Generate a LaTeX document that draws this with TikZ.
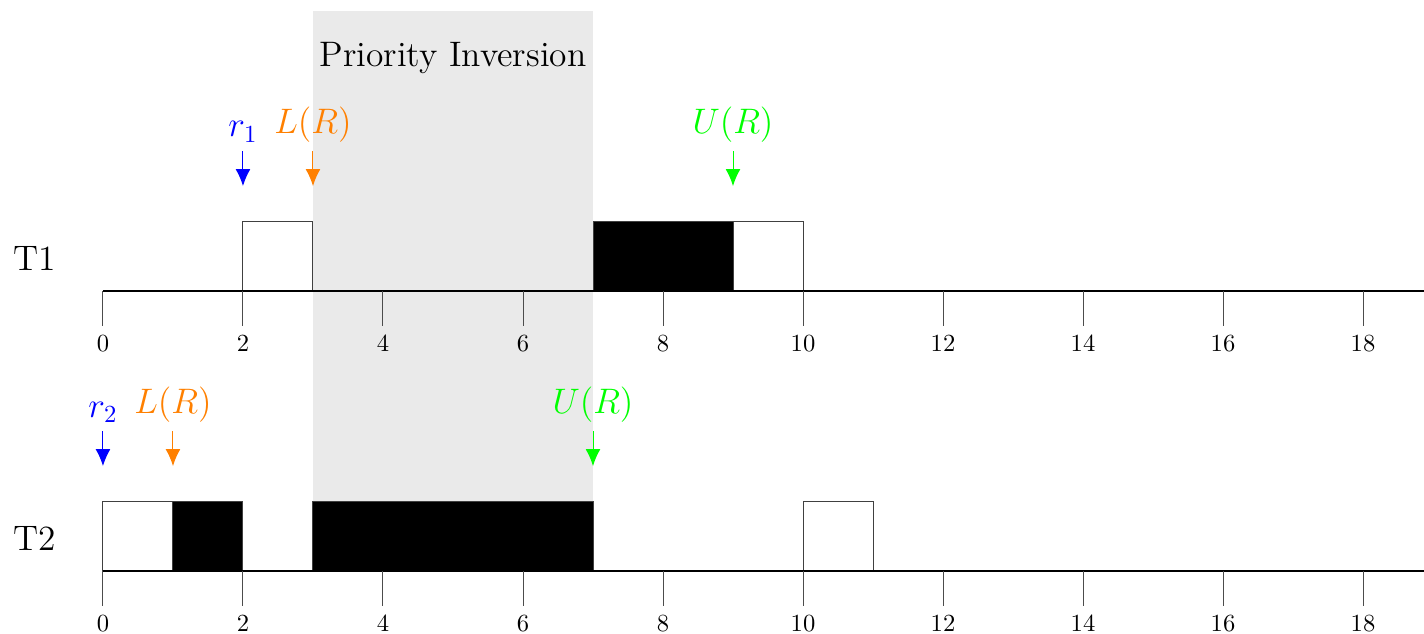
\documentclass[tikz,border=0pt]{standalone}
\usepackage{tikz}
\usetikzlibrary{arrows.meta}
\definecolor{lockorange}{RGB}{255,128,0}
\definecolor{unlockgreen}{RGB}{0,255,0}
\definecolor{invgray}{HTML}{EAEAEA}

\begin{document}
\begin{tikzpicture}[
    runbox/.style={draw=black!75, thin, fill=white},
    critbox/.style={draw=black!75, thin, fill=black},
    timeaxis/.style={thick},
    tickmark/.style={thin, black!70},
    evt/.style={thin, -{Latex[length=2.4mm,width=2.1mm]}},
    evtlbl/.style={anchor=south, font=\Large},
    tasklbl/.style={anchor=base, font=\Large}
]
\useasboundingbox (-1.471,-4.886) rectangle (18.871,4.157);

% priority inversion window
\fill[invgray] (3,-4) rectangle (7,4);
\node[anchor=base, font=\Large] (pinv) at (5,3.21) {Priority Inversion};

% task names
\node[tasklbl] (t1) at (-0.97,0.3) {T1};
\node[tasklbl] (t2) at (-0.97,-3.71) {T2};

% T1 execution
\draw[runbox] (2,0) rectangle (3,1);
\draw[critbox] (7,0) rectangle (9,1);
\draw[runbox] (9,0) rectangle (10,1);

% T2 execution
\draw[runbox] (0,-4) rectangle (1,-3);
\draw[critbox] (1,-4) rectangle (2,-3);
\draw[critbox] (3,-4) rectangle (7,-3);
\draw[runbox] (10,-4) rectangle (11,-3);

% time axes
\foreach \ay in {0,-4} {
  \draw[timeaxis] (0,\ay) -- (19,\ay);
  \foreach \x in {0,2,...,18} {
    \draw[tickmark] (\x,\ay) -- (\x,\ay-0.5) node[below, black] {\x};
  }
}

% events on T1
\node[evtlbl, blue] (r1) at (2,2) {$r_1$};
\node[evtlbl, lockorange] (lk1) at (3,2) {$L(R)$};
\node[evtlbl, unlockgreen] (ul1) at (9,2) {$U(R)$};
\coordinate (r1e) at (2,1.5);
\coordinate (lk1e) at (3,1.5);
\coordinate (ul1e) at (9,1.5);
\draw[evt, blue] (r1.south) -- (r1e);
\draw[evt, lockorange] (lk1.south) -- (lk1e);
\draw[evt, unlockgreen] (ul1.south) -- (ul1e);

% events on T2
\node[evtlbl, blue] (r2) at (0,-2) {$r_2$};
\node[evtlbl, lockorange] (lk2) at (1,-2) {$L(R)$};
\node[evtlbl, unlockgreen] (ul2) at (7,-2) {$U(R)$};
\coordinate (r2e) at (0,-2.5);
\coordinate (lk2e) at (1,-2.5);
\coordinate (ul2e) at (7,-2.5);
\draw[evt, blue] (r2.south) -- (r2e);
\draw[evt, lockorange] (lk2.south) -- (lk2e);
\draw[evt, unlockgreen] (ul2.south) -- (ul2e);
\end{tikzpicture}
\end{document}
